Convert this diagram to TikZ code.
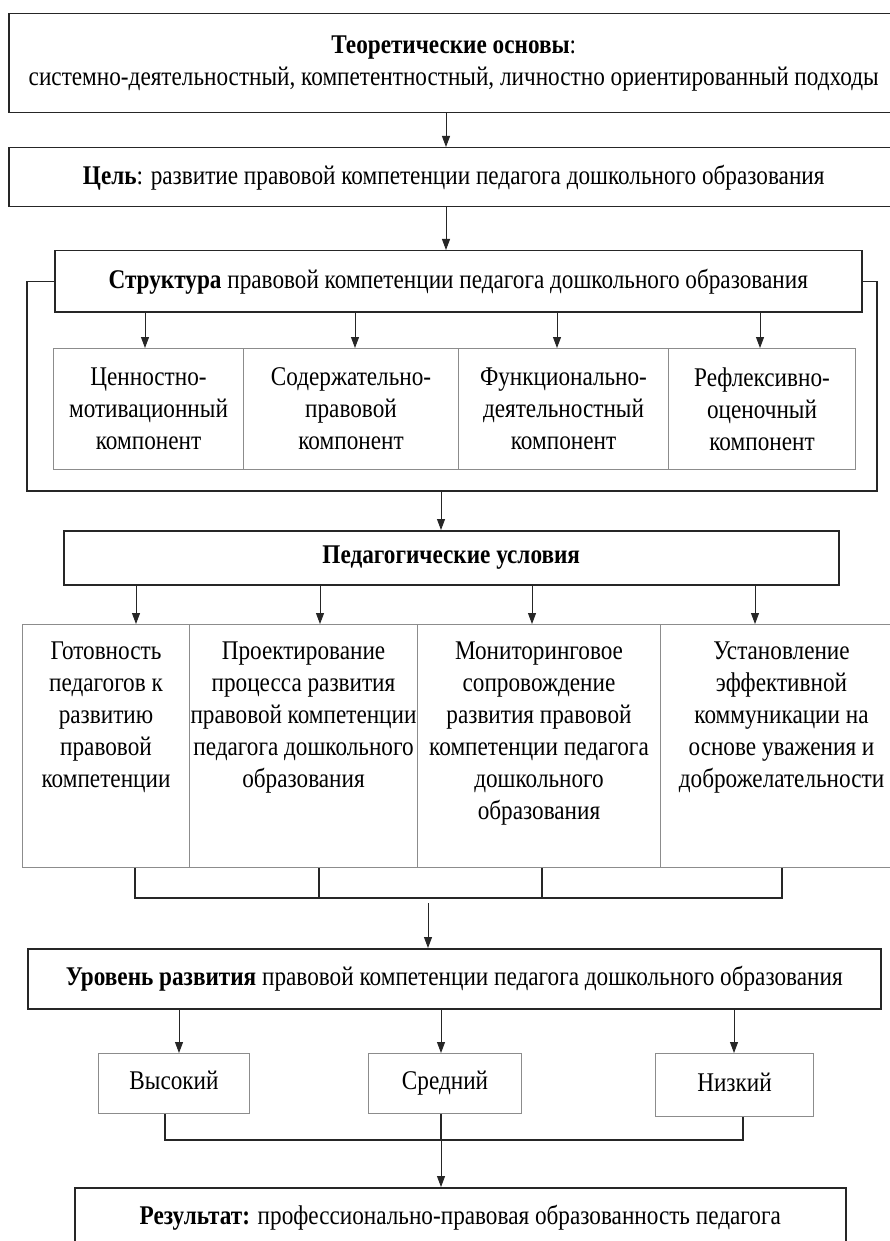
\documentclass[tikz,border=0pt]{standalone}
\usepackage{fontspec}
\setmainfont{Liberation Serif}[FakeStretch=0.86]
\usetikzlibrary{arrows.meta}
\begin{document}
\begin{tikzpicture}[x=1pt,y=-1pt,
  every node/.style={font=\fontsize{27}{32}\selectfont},
  box/.style={draw=black!85, line width=1.5pt, inner sep=0pt, anchor=north west, align=center},
  sub/.style={draw=black!45, line width=1pt, inner sep=0pt, anchor=north west, align=center},
  lvlbox/.style={sub, text height=19pt, text depth=7pt},
  arr/.style={draw=black!85, line width=0.9pt, -{Triangle[length=11pt,width=8pt]}},
  ln/.style={draw=black!85, line width=1.3pt}]
\useasboundingbox (0,0) rectangle (889,1241);
\fill[white] (0,0) rectangle (889,1241);
% top boxes
\node[box, minimum width=890pt, minimum height=99pt] (theo) at (8,13)
  {\textbf{Теоретические основы}:\\ системно-деятельностный, компетентностный, личностно ориентированный подходы};
\node[box, minimum width=890pt, minimum height=59pt] (goal) at (8,147)
  {\textbf{Цель}: развитие правовой компетенции педагога дошкольного образования};
\draw[arr] (theo.south -| 446,0) -- (goal.north -| 446,0);
\node[box, minimum width=807pt, minimum height=61pt] (struct) at (54,250)
  {\textbf{Структура} правовой компетенции педагога дошкольного образования};
\draw[arr] (goal.south -| 446,0) -- (struct.north -| 446,0);
% components
\node[sub, minimum width=190pt, minimum height=121pt] (k1) at (53,348) {Ценностно-\\мотивационный\\компонент};
\node[sub, minimum width=215pt, minimum height=121pt] (k2) at (243,348) {Содержательно-\\правовой\\компонент};
\node[sub, minimum width=210pt, minimum height=121pt] (k3) at (458,348) {Функционально-\\деятельностный\\компонент};
\node[sub, minimum width=187pt, minimum height=121pt] (k4) at (668,348) {Рефлексивно-\\оценочный\\компонент};
\draw[arr] (struct.south -| 145,0) -- (k1.north -| 145,0);
\draw[arr] (struct.south -| 355,0) -- (k2.north -| 355,0);
\draw[arr] (struct.south -| 557,0) -- (k3.north -| 557,0);
\draw[arr] (struct.south -| 760,0) -- (k4.north -| 760,0);
% frame
\coordinate (fbl) at (27,491);
\coordinate (fbr) at (877,491);
\coordinate (fb) at (441,491);
\draw[ln] (struct.west) -| (fbl) -- (fbr) |- (struct.east);
% pedagogical conditions
\node[box, minimum width=775pt, minimum height=54pt] (ped) at (63,530) {\textbf{Педагогические условия}};
\draw[arr] (fb) -- (fb |- ped.north);
\node[sub, minimum width=167pt, minimum height=243pt] (c1) at (22,624)
  {\parbox[c][243pt][t]{165pt}{\centering\vspace{17pt}Готовность\\педагогов к\\развитию\\правовой\\компетенции}};
\node[sub, minimum width=228pt, minimum height=243pt] (c2) at (189,624)
  {\parbox[c][243pt][t]{226pt}{\centering\vspace{17pt}Проектирование\\процесса развития\\правовой компетенции\\педагога дошкольного\\образования}};
\node[sub, minimum width=243pt, minimum height=243pt] (c3) at (417,624)
  {\parbox[c][243pt][t]{241pt}{\centering\vspace{17pt}Мониторинговое\\сопровождение\\развития правовой\\компетенции педагога\\дошкольного\\образования}};
\node[sub, minimum width=242pt, minimum height=243pt] (c4) at (660,624)
  {\parbox[c][243pt][t]{240pt}{\centering\vspace{17pt}Установление\\эффективной\\коммуникации на\\основе уважения и\\доброжелательности}};
\draw[arr] (ped.south -| 136,0) -- (c1.north -| 136,0);
\draw[arr] (ped.south -| 320,0) -- (c2.north -| 320,0);
\draw[arr] (ped.south -| 532,0) -- (c3.north -| 532,0);
\draw[arr] (ped.south -| 755,0) -- (c4.north -| 755,0);
% bracket
\coordinate (b1) at (135,898);
\coordinate (b2) at (319,898);
\coordinate (b3) at (542,898);
\coordinate (b4) at (782,898);
\draw[ln] (b1 |- c1.south) -- (b1) -- (b4) -- (b4 |- c4.south);
\draw[ln] (b2 |- c2.south) -- (b2);
\draw[ln] (b3 |- c3.south) -- (b3);
% level
\node[box, minimum width=853pt, minimum height=60pt] (lvl) at (27,948)
  {\textbf{Уровень развития} правовой компетенции педагога дошкольного образования};
\coordinate (g) at (428,903);
\draw[arr] (g) -- (g |- lvl.north);
\node[lvlbox, minimum width=151pt, minimum height=60pt] (hi) at (98,1053) {Высокий};
\node[lvlbox, minimum width=153pt, minimum height=60pt] (mid) at (368,1053) {Средний};
\node[lvlbox, minimum width=158pt, minimum height=63pt] (lo) at (655,1053) {Низкий};
\draw[arr] (lvl.south -| 179,0) -- (hi.north -| 179,0);
\draw[arr] (lvl.south -| 441,0) -- (mid.north -| 441,0);
\draw[arr] (lvl.south -| 734,0) -- (lo.north -| 734,0);
\coordinate (h1) at (165,1140);
\coordinate (h2) at (441,1140);
\coordinate (h3) at (743,1140);
\draw[ln] (h1 |- hi.south) -- (h1) -- (h3) -- (h3 |- lo.south);
\draw[ln] (h2 |- mid.south) -- (h2);
\node[box, minimum width=771pt, minimum height=60pt] (res) at (74,1187)
  {\textbf{Результат:} профессионально-правовая образованность педагога};
\draw[arr] (h2) -- (h2 |- res.north);
\end{tikzpicture}
\end{document}
